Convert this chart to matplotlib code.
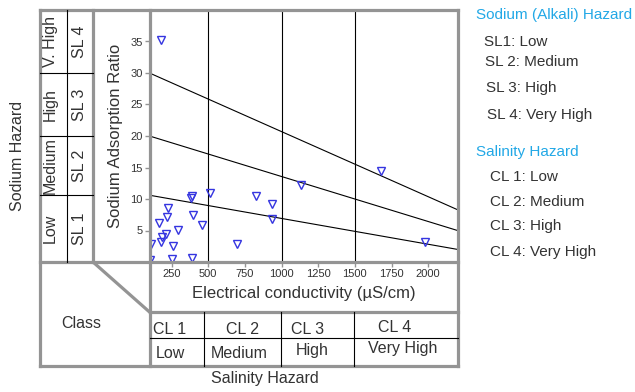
import matplotlib
matplotlib.use("Agg")
import matplotlib.pyplot as plt
from matplotlib.lines import Line2D
from matplotlib.transforms import blended_transform_factory

plt.rcParams["font.family"] = ["Liberation Sans", "DejaVu Sans"]

W, H = 635, 392

# samples: electrical conductivity (uS/cm) and sodium adsorption ratio
ec = [180, 1677, 1133, 1976, 824, 938, 938, 695, 511, 385, 392, 398, 455,
      291, 223, 216, 167, 185, 214, 181, 260, 112, 105, 253, 393]
sar = [35.3, 14.4, 12.2, 3.2, 10.4, 9.25, 6.8, 2.8, 10.9, 10.2, 10.4, 7.4,
       5.95, 5.05, 8.5, 7.2, 6.2, 3.9, 4.4, 3.1, 2.55, 2.8, 0.25, 0.4, 0.6]

# sodium hazard boundary lines (SAR at EC = 100 and EC = 2200)
bound_ec = [100, 2200]
bound_sar = [[30, 8.3], [20, 5.0], [10.6, 2.0]]

ec_class_edges = [500, 1000, 1500]
sar_class_edges = [10.6, 20, 30]
sar_class_mid = [5.3, 15.3, 25, 35]
sodium_names = ["Low", "Medium", "High", "V. High"]
sodium_codes = ["SL 1", "SL 2", "SL 3", "SL 4"]

x_ticks = [250, 500, 750, 1000, 1250, 1500, 1750, 2000]
y_ticks = [0, 5, 10, 15, 20, 25, 30, 35]
y_tick_labels = ["", "5", "10", "15", "20", "25", "30", "35"]

legend_sodium = ["SL1: Low", "SL 2: Medium", "SL 3: High", "SL 4: Very High"]
legend_salinity = ["CL 1: Low", "CL 2: Medium", "CL 3: High", "CL 4: Very High"]

GRAY = "#949494"
TXT = "#333333"
CYAN = "#22a8e6"
BLUE = "#3535e0"


def fx(x):
    return x / W


def fy(y):
    return 1 - y / H


fig = plt.figure(figsize=(W / 100, H / 100), dpi=100)
fig.patch.set_facecolor("white")
ax = fig.add_axes([fx(149.5), fy(262), (457.5 - 149.5) / W, 252 / H])

for i in range(len(bound_sar)):
    ax.plot(bound_ec, bound_sar[i], color="black", lw=0.8)
for e in ec_class_edges:
    ax.axvline(e, color="black", lw=0.8)
ax.plot(ec, sar, linestyle="none", marker="v", markersize=6,
        markerfacecolor="none", markeredgecolor=BLUE, markeredgewidth=1.0)

ax.set_xlim(100, 2200)
ax.set_ylim(0, 40)
ax.set_xticks(x_ticks)
ax.set_xticklabels([str(t) for t in x_ticks])
ax.set_yticks(y_ticks)
ax.set_yticklabels(y_tick_labels)
ax.tick_params(length=3.5, width=1, color=GRAY, labelsize=8,
               labelcolor=TXT, pad=1.5)
for s in ax.spines.values():
    s.set_visible(False)
ax.set_xlabel("Electrical conductivity (µS/cm)", fontsize=12, color=TXT,
              labelpad=5)
ax.set_ylabel("Sodium Adsorption Ratio", fontsize=12, color=TXT, labelpad=5)


def line(xs, ys, color=GRAY, lw=2.3, transform=None):
    if transform is None:
        xs = [fx(x) for x in xs]
        ys = [fy(y) for y in ys]
        transform = fig.transFigure
    fig.add_artist(Line2D(xs, ys, color=color, lw=lw, transform=transform,
                          solid_capstyle="projecting", clip_on=False))


# gray frame
line([40, 458], [10, 10])
line([40, 40], [10, 366])
line([40, 458], [366, 366])
line([458, 458], [10, 366])
line([93, 93], [10, 262])
line([149.5, 149.5], [10, 366])
line([40, 458], [262, 262])
line([93, 149.5], [262, 312])
line([149.5, 458], [312, 312])

# thin black dividers
line([67, 67], [10, 262], color="black", lw=0.8)
tr = blended_transform_factory(fig.transFigure, ax.transData)
for s in sar_class_edges:
    line([fx(40), fx(93)], [s, s], color="black", lw=0.8, transform=tr)
line([149.5, 458], [338, 338], color="black", lw=0.8)
for x in [204, 281, 354]:
    line([x, x], [312, 366], color="black", lw=0.8)

# left hazard labels
for m, name, code in zip(sar_class_mid, sodium_names, sodium_codes):
    fig.text(fx(50), m, name, transform=tr, rotation=90, ha="center",
             va="center", fontsize=11.5, color=TXT)
    fig.text(fx(80), m, code, transform=tr, rotation=90, ha="center",
             va="center", fontsize=11.5, color=TXT)
fig.text(fx(18), fy(156), "Sodium Hazard", rotation=90, ha="center",
         va="center", fontsize=11.5, color=TXT)

# bottom salinity table
fig.text(fx(81.5), fy(323), "Class", ha="center", va="center",
         fontsize=11.5, color=TXT)
for x, y, s in [(170, 329, "CL 1"), (242, 329, "CL 2"), (308, 329, "CL 3"),
                (395, 327, "CL 4"), (170, 354, "Low"), (239, 354, "Medium"),
                (312, 350, "High"), (403, 349, "Very High")]:
    fig.text(fx(x), fy(y), s, ha="center", va="center", fontsize=11.5,
             color=TXT)
fig.text(fx(265), fy(378), "Salinity Hazard", ha="center", va="center",
         fontsize=11.5, color=TXT)

# side legend
fig.text(fx(476), fy(15), "Sodium (Alkali) Hazard", ha="left", va="center",
         fontsize=11, color=CYAN)
for (x, y), s in zip([(484, 42), (485, 62), (486, 88), (487, 115)],
                     legend_sodium):
    fig.text(fx(x), fy(y), s, ha="left", va="center", fontsize=11,
             color=TXT)
fig.text(fx(476), fy(152), "Salinity Hazard", ha="left", va="center",
         fontsize=11, color=CYAN)
for (x, y), s in zip([(490, 177), (490, 202), (490, 226), (490, 252)],
                     legend_salinity):
    fig.text(fx(x), fy(y), s, ha="left", va="center", fontsize=11,
             color=TXT)

fig.savefig("out.png", dpi=100)
